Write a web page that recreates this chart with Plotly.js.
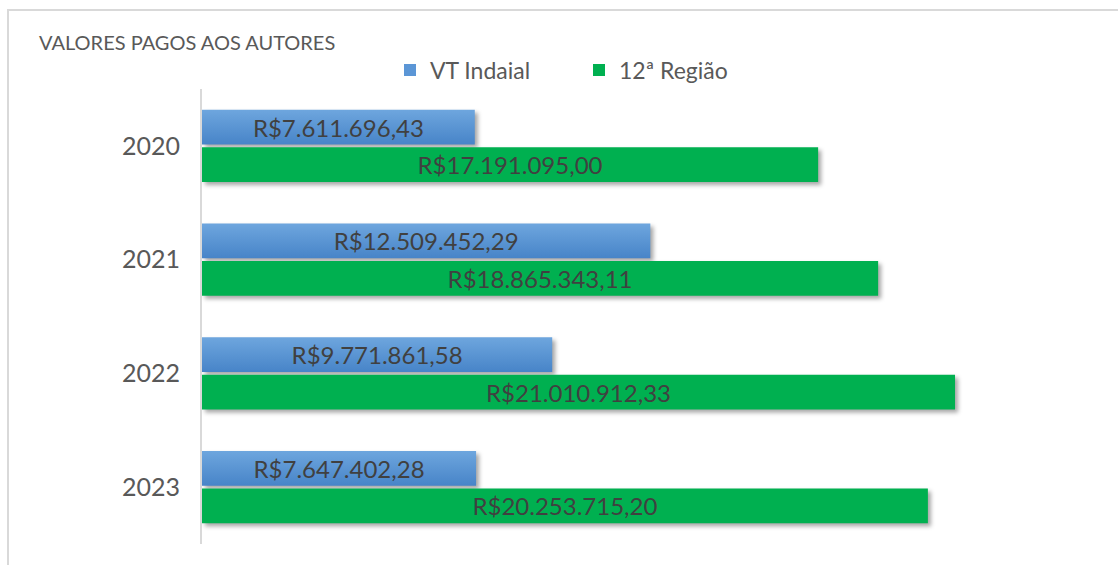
<!DOCTYPE html>
<html>
<head>
<meta charset="utf-8">
<script src="https://cdn.plot.ly/plotly-3.0.1.min.js"></script>
<style>
  html, body { margin: 0; padding: 0; background: #ffffff; overflow: hidden; }
  #wrap { position: relative; width: 1118px; height: 565px; }
  #chart { position: absolute; left: 0; top: 0; width: 1118px; height: 565px; }
  #frame { position: absolute; left: 7px; top: 9px; width: 2000px; height: 2000px;
           border-left: 2px solid #d9d9d9; border-top: 2px solid #d9d9d9; pointer-events: none; }
  .barlayer .trace.bars:nth-child(1) .point path { fill: url(#blueGrad) !important; }
  .barlayer .trace.bars .point path { filter: drop-shadow(3px 3px 2px rgba(0,0,0,0.35)); }
</style>
</head>
<body>
<svg width="0" height="0" style="position:absolute">
  <defs>
    <linearGradient id="blueGrad" x1="0" y1="0" x2="0" y2="1">
      <stop offset="0%" stop-color="#6ea6de"/>
      <stop offset="100%" stop-color="#4784c8"/>
    </linearGradient>
  </defs>
</svg>
<div id="wrap">
  <div id="chart"></div>
  <div id="frame"></div>
</div>
<script>
const years = ["2020", "2021", "2022", "2023"];
const vtIndaial = [7611696.43, 12509452.29, 9771861.58, 7647402.28];
const regiao12 = [17191095.00, 18865343.11, 21010912.33, 20253715.20];
const seriesNames = ["VT Indaial", "12ª Região"];
const chartTitle = "VALORES PAGOS AOS AUTORES";

function brl(v) {
  const fixed = v.toFixed(2);
  const parts = fixed.split(".");
  const intPart = parts[0].replace(/\B(?=(\d{3})+(?!\d))/g, ".");
  return "R$" + intPart + "," + parts[1];
}

const FONT = "Lato, 'Open Sans', sans-serif";

const traces = [
  {
    type: "bar", orientation: "h", name: seriesNames[0],
    y: years, x: vtIndaial,
    text: vtIndaial.map(brl), textposition: "inside", insidetextanchor: "middle",
    textangle: 0, constraintext: "none",
    textfont: { family: FONT, size: 24, color: "#404040" },
    marker: { color: "#5b96d6" },
    hoverinfo: "x+name"
  },
  {
    type: "bar", orientation: "h", name: seriesNames[1],
    y: years, x: regiao12,
    text: regiao12.map(brl), textposition: "inside", insidetextanchor: "middle",
    textangle: 0, constraintext: "none",
    textfont: { family: FONT, size: 24, color: "#404040" },
    marker: { color: "#00b050" },
    hoverinfo: "x+name"
  }
];

const layout = {
  width: 1118, height: 565,
  margin: { l: 202, r: 20, t: 89, b: 21 },
  paper_bgcolor: "rgba(0,0,0,0)",
  plot_bgcolor: "rgba(0,0,0,0)",
  barmode: "group",
  bargap: 0.342,
  bargroupgap: 0.067,
  font: { family: FONT, color: "#595959" },
  title: {
    text: chartTitle,
    font: { family: FONT, size: 20, color: "#595959" },
    xref: "container", yref: "container",
    x: 39 / 1118, xanchor: "left",
    y: 1 - 43 / 565, yanchor: "middle"
  },
  showlegend: true,
  legend: {
    orientation: "h",
    x: (390 - 202) / 896, xanchor: "left",
    y: 1 + (89 - 70) / 455, yanchor: "middle",
    font: { family: FONT, size: 23, color: "#595959" },
    entrywidth: 144, entrywidthmode: "pixels",
    itemwidth: 30,
    bgcolor: "rgba(0,0,0,0)"
  },
  xaxis: {
    range: [0, 25000000],
    showticklabels: false, showgrid: false, zeroline: false, showline: false,
    fixedrange: true
  },
  yaxis: {
    type: "category",
    autorange: "reversed",
    showline: true, linecolor: "#d9d9d9", linewidth: 2,
    ticks: "", ticklabelstandoff: 15,
    tickfont: { family: FONT, size: 25, color: "#595959" },
    showgrid: false, zeroline: false,
    fixedrange: true
  }
};

Plotly.newPlot("chart", traces, layout, { displayModeBar: false, staticPlot: true });
</script>
</body>
</html>
